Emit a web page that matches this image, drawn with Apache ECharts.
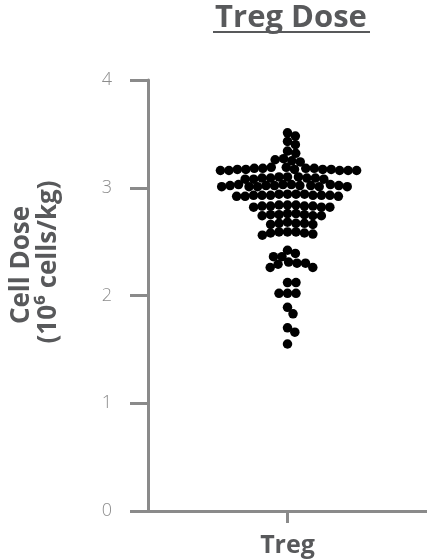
<!DOCTYPE html>
<html>
<head>
<meta charset="utf-8">
<script src="https://cdn.jsdelivr.net/npm/echarts@6/dist/echarts.min.js"></script>
<style>
  html, body { margin: 0; padding: 0; background: #fff; }
  #chart { width: 427px; height: 560px; }
</style>
</head>
<body>
<div id="chart"></div>
<script>
// Category and axis ticks
const categories = ['Treg'];
const yTicks = [0, 1, 2, 3, 4];

// Treg cell dose per patient (10^6 cells/kg)
const tregDoses = [
  3.51, 3.48, 3.43, 3.40, 3.34, 3.32,
  3.26, 3.25, 3.27, 3.24,
  3.18, 3.17, 3.16, 3.18, 3.17, 3.16, 3.17, 3.18, 3.16, 3.17, 3.19, 3.16, 3.18, 3.17, 3.16, 3.19,
  3.09, 3.10, 3.08, 3.09, 3.10, 3.09, 3.08, 3.10, 3.09, 3.08,
  3.02, 3.01, 3.03, 3.02, 3.01, 3.02, 3.03, 3.01, 3.02, 3.03, 3.02, 3.01, 3.02, 3.03, 3.01,
  2.93, 2.94, 2.92, 2.93, 2.94, 2.93, 2.92, 2.93, 2.94, 2.92, 2.93, 2.94, 2.93,
  2.83, 2.84, 2.82, 2.83, 2.84, 2.83, 2.82, 2.83, 2.84, 2.82,
  2.75, 2.74, 2.76, 2.75, 2.74, 2.75, 2.76, 2.74,
  2.67, 2.66, 2.68, 2.67, 2.66, 2.67,
  2.59, 2.58, 2.57, 2.59, 2.58, 2.56, 2.59,
  2.42,
  2.36, 2.39, 2.36,
  2.30, 2.26, 2.26, 2.30, 2.31, 2.29,
  2.12, 2.12,
  2.02, 2.02, 2.02,
  1.89, 1.83, 1.70, 1.66, 1.55
];

const GRAY_AXIS = '#8a8a8a';
const GRAY_TEXT = '#58595b';
const DOT = 9.5;

const chart = echarts.init(document.getElementById('chart'), null, { renderer: 'canvas' });

function baseOption(points) {
  return {
    animation: false,
    backgroundColor: '#ffffff',
    grid: { left: 148, top: 80, width: 284, height: 431, containLabel: false },
    xAxis: [
      {
        type: 'category',
        data: categories,
        axisLine: { show: true, onZero: false, lineStyle: { color: GRAY_AXIS, width: 3 } },
        axisTick: { show: true, alignWithLabel: true, length: 12, lineStyle: { color: GRAY_AXIS, width: 3 } },
        axisLabel: {
          margin: 22,
          color: GRAY_TEXT,
          fontFamily: 'Open Sans',
          fontWeight: 'bold',
          fontSize: 25
        },
        splitLine: { show: false }
      },
      { type: 'value', min: -1, max: 1, show: false }
    ],
    yAxis: {
      type: 'value',
      min: yTicks[0],
      max: yTicks[yTicks.length - 1],
      interval: 1,
      axisLine: { show: true, onZero: false, lineStyle: { color: GRAY_AXIS, width: 3 } },
      axisTick: { show: true, length: 18, lineStyle: { color: GRAY_AXIS, width: 3 } },
      axisLabel: {
        margin: 36,
        color: '#8c8c8c',
        fontFamily: 'Open Sans',
        fontWeight: 300,
        fontSize: 18
      },
      splitLine: { show: false }
    },
    graphic: [
      {
        type: 'text',
        x: 291, y: 3,
        style: {
          text: 'Treg Dose',
          fill: GRAY_TEXT,
          font: 'bold 31px "Open Sans"',
          textAlign: 'center'
        }
      },
      {
        type: 'line',
        shape: { x1: 213, y1: 32, x2: 370, y2: 32 },
        style: { stroke: GRAY_TEXT, lineWidth: 2 }
      },
      {
        type: 'text',
        x: 22, y: 265,
        rotation: Math.PI / 2,
        style: {
          text: 'Cell Dose',
          fill: GRAY_TEXT,
          font: 'bold 26px "Open Sans"',
          textAlign: 'center',
          textVerticalAlign: 'middle'
        }
      },
      {
        type: 'text',
        x: 49, y: 262,
        rotation: Math.PI / 2,
        style: {
          text: '(10\u2076 cells/kg)',
          fill: GRAY_TEXT,
          font: 'bold 26px "Open Sans"',
          textAlign: 'center',
          textVerticalAlign: 'middle'
        }
      }
    ],
    series: [
      {
        type: 'scatter',
        xAxisIndex: 1,
        yAxisIndex: 0,
        symbol: 'circle',
        symbolSize: DOT,
        itemStyle: { color: '#000000', opacity: 1 },
        data: points
      }
    ]
  };
}

// First pass: lay out axes so value -> pixel conversion is available
chart.setOption(baseOption([]));

// Beeswarm layout: each dot keeps its dose on the y axis and is pushed
// sideways to the nearest free slot next to the category centre.
function beeswarm(pixelYs, diameter) {
  const order = pixelYs.map((_, i) => i).sort((a, b) => pixelYs[a] - pixelYs[b]);
  const placed = [];
  const xs = new Array(pixelYs.length);
  const d2 = diameter * diameter;
  for (const i of order) {
    const y = pixelYs[i];
    const near = placed.filter(p => Math.abs(p.y - y) < diameter);
    const cands = [0];
    near.forEach(p => {
      const dx = Math.sqrt(d2 - (p.y - y) * (p.y - y));
      cands.push(p.x + dx, p.x - dx);
    });
    cands.sort((a, b) => Math.abs(a) - Math.abs(b));
    const x = cands.find(c => near.every(p => (p.x - c) * (p.x - c) + (p.y - y) * (p.y - y) >= d2 - 1e-6));
    xs[i] = x;
    placed.push({ x, y });
  }
  return xs;
}

const centerPx = chart.convertToPixel({ xAxisIndex: 1 }, 0);
const pixelYs = tregDoses.map(v => chart.convertToPixel({ yAxisIndex: 0 }, v));
const offsets = beeswarm(pixelYs, 8.5);
const points = tregDoses.map((v, i) => [chart.convertFromPixel({ xAxisIndex: 1 }, centerPx + offsets[i]), v]);

chart.setOption(baseOption(points));
</script>
</body>
</html>
